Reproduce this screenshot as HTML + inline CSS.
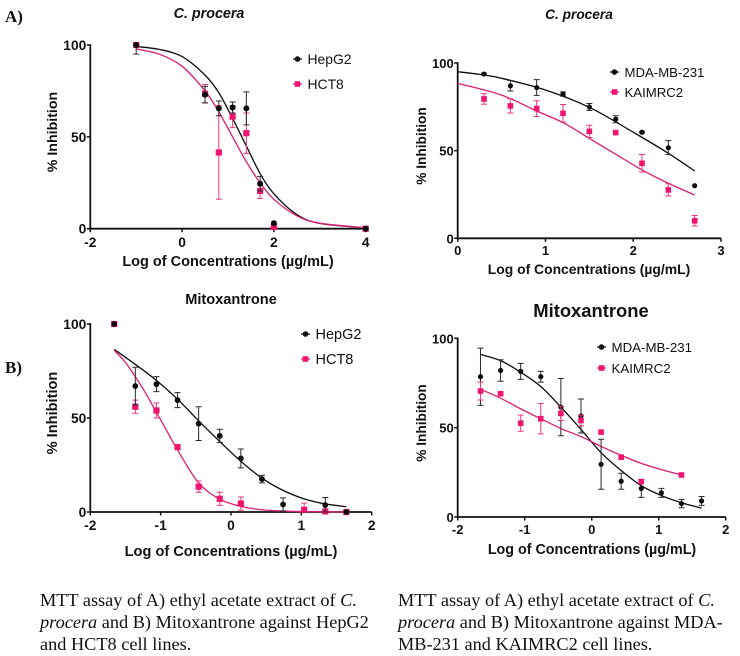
<!DOCTYPE html>
<html lang="en">
<head>
<meta charset="utf-8">
<title>MTT assay dose-response charts</title>
<style>
html,body{margin:0;padding:0;background:#fff;}
#page{position:relative;width:740px;height:656px;overflow:hidden;background:#fff;}
svg{position:absolute;left:0;top:0;filter:blur(0.3px);}
svg text{font-family:"Liberation Sans",sans-serif;fill:#111;}
.panel-label{font-family:"Liberation Serif",serif;font-weight:bold;font-size:17px;}
.title{font-weight:bold;font-size:14.3px;text-anchor:middle;}
.caption{position:absolute;font-family:"Liberation Serif",serif;font-size:18.3px;line-height:22px;color:#111;white-space:nowrap;}
</style>
</head>
<body>
<div id="page">
<svg id="fig" width="740" height="656" viewBox="0 0 740 656">
  <text class="panel-label" x="5" y="22">A)</text>
  <text class="panel-label" x="5" y="373">B)</text>
  <text class="title" x="209" y="18" font-style="italic">C. procera</text>
  <text class="title" x="579" y="19" font-style="italic" style="font-size:13.7px">C. procera</text>
  <text class="title" x="231" y="304" style="font-size:14.6px">Mitoxantrone</text>
  <text class="title" x="591" y="317" style="font-size:18.4px">Mitoxantrone</text>
</svg>
<div class="caption" style="left:40px;top:589px">MTT assay of A) ethyl acetate extract of <i>C.</i><br><i>procera</i> and B) Mitoxantrone against HepG2<br>and HCT8 cell lines.</div>
<div class="caption" style="left:398px;top:589px">MTT assay of A) ethyl acetate extract of <i>C.</i><br><i>procera</i> and B) Mitoxantrone against MDA-<br>MB-231 and KAIMRC2 cell lines.</div>
</div>
<script>
// ---- Chart A1 (C. procera, HepG2 / HCT8)
var a1XTicks = [-2, 0, 2, 4];
var a1YTicks = [0, 50, 100];
var a1BlackX = [-1, 0.5, 0.8, 1.1, 1.4, 1.7, 2, 4];
var a1BlackY = [100, 73, 65.5, 66, 65.5, 24.5, 3, 0];
var a1BlackErr = [5, 4.5, 4, 3, 9, 4, 0, 0];
var a1PinkX = [-1, 0.5, 0.8, 1.1, 1.4, 1.7, 2, 4];
var a1PinkY = [100, 73.5, 41.5, 61, 52, 20.5, 1, 0];
var a1PinkErr = [0, 5, 25.5, 6, 11, 4, 0, 0];
var a1BlackCurveX = [-1, -0.5, 0, 0.5, 0.8, 1.1, 1.4, 1.7, 2, 2.5, 3, 4];
var a1BlackCurveY = [99.2, 97.6, 93.7, 83.6, 74, 60, 45, 30, 19, 7.7, 2.9, 0.4];
var a1PinkCurveX = [-1, -0.5, 0, 0.5, 0.8, 1.1, 1.4, 1.7, 2, 2.5, 3, 4];
var a1PinkCurveY = [97.9, 95, 88.4, 75, 63.6, 50, 36.4, 25, 16, 7, 3, 0.5];

// ---- Chart A2 (C. procera, MDA-MB-231 / KAIMRC2)
var a2XTicks = [0, 1, 2, 3];
var a2YTicks = [0, 50, 100];
var a2BlackX = [0.3, 0.6, 0.9, 1.2, 1.5, 1.8, 2.1, 2.4, 2.7];
var a2BlackY = [93.7, 87, 86, 82.3, 74.9, 67.9, 60.5, 51.7, 30];
var a2BlackErr = [0.5, 3, 4.5, 1.2, 2, 2, 0.5, 4, 0];
var a2PinkX = [0.3, 0.6, 0.9, 1.2, 1.5, 1.8, 2.1, 2.4, 2.7];
var a2PinkY = [79.5, 75.5, 74, 71.3, 61, 60.3, 42.8, 27.6, 10];
var a2PinkErr = [3, 4, 4.5, 5, 3.5, 0, 5, 3.5, 3];
var a2BlackCurveX = [0, 0.25, 0.5, 1, 1.5, 2, 2.4, 2.7];
var a2BlackCurveY = [95, 93.5, 91.3, 84.6, 74.7, 60.5, 48.5, 38.4];
var a2PinkCurveX = [0, 0.5, 0.9, 1.2, 1.5, 1.8, 2.1, 2.4, 2.7];
var a2PinkCurveY = [88.4, 81.7, 72.6, 66, 57, 48, 39, 31.4, 24.7];

// ---- Chart B1 (Mitoxantrone, HepG2 / HCT8)
var b1XTicks = [-2, -1, 0, 1, 2];
var b1YTicks = [0, 50, 100];
var b1BlackX = [-1.66, -1.36, -1.06, -0.76, -0.46, -0.16, 0.14, 0.44, 0.74, 1.34, 1.64];
var b1BlackY = [100, 67, 68, 59.5, 47, 40.5, 28.5, 17.5, 4, 3.7, 0];
var b1BlackErr = [0, 10, 4, 4, 9, 3.5, 5, 2, 3.5, 4, 0];
var b1PinkX = [-1.66, -1.36, -1.06, -0.76, -0.46, -0.16, 0.14, 1.04, 1.34, 1.64];
var b1PinkY = [100, 56, 54, 34.5, 13.5, 7, 4.5, 1.2, 0.3, 0];
var b1PinkErr = [0, 3.5, 4, 0, 3, 3.5, 3.5, 3.5, 1, 0];
var b1BlackCurveX = [-1.66, -1.36, -1.06, -0.76, -0.46, -0.16, 0.14, 0.44, 0.74, 1.04, 1.34, 1.64];
var b1BlackCurveY = [86.5, 78.5, 70, 60, 48.5, 37.5, 27, 18, 11.5, 7, 4.3, 2.8];
var b1PinkCurveX = [-1.66, -1.51, -1.36, -1.21, -1.06, -0.91, -0.76, -0.46, -0.16, 0.14, 0.44, 0.74, 1.04, 1.64];
var b1PinkCurveY = [86, 80, 72, 63, 53, 43, 33, 15.5, 6.8, 3, 1.2, 0.5, 0.2, 0];

// ---- Chart B2 (Mitoxantrone, MDA-MB-231 / KAIMRC2)
var b2XTicks = [-2, -1, 0, 1, 2];
var b2YTicks = [0, 50, 100];
var b2BlackX = [-1.66, -1.36, -1.06, -0.76, -0.46, -0.16, 0.14, 0.44, 0.74, 1.04, 1.34, 1.64];
var b2BlackY = [78.5, 82, 81.5, 78.5, 61.5, 56.5, 29.5, 20, 16, 13.5, 7.5, 9];
var b2BlackErr = [16, 6, 4.5, 3, 16, 9.5, 14, 4.5, 5, 2.5, 2.3, 2.5];
var b2PinkX = [-1.66, -1.36, -1.06, -0.76, -0.46, -0.16, 0.14, 0.44, 0.74, 1.34];
var b2PinkY = [70.5, 69, 52.5, 55, 58, 54, 47.5, 33.5, 19.8, 23.5];
var b2PinkErr = [5, 0.5, 4.5, 8.5, 4, 3, 0, 0, 0, 0];
var b2BlackCurveX = [-1.66, -1.36, -1.06, -0.76, -0.46, -0.16, 0.14, 0.44, 0.74, 1.04, 1.34, 1.64];
var b2BlackCurveY = [91, 87.5, 81, 73, 61.5, 49, 36, 26, 17.5, 12, 8, 5];
var b2PinkCurveX = [-1.66, -1.36, -1.06, -0.76, -0.46, -0.16, 0.14, 0.44, 0.74, 1.04, 1.34];
var b2PinkCurveY = [71.5, 66.5, 60.5, 55, 49.5, 45, 39.5, 34.5, 30, 26.5, 23.5];

var BLACK = '#0d0d0d';
var PINK = '#ee1470';
var PINK_LINE = '#dc1c74';
var SVGNS = 'http://www.w3.org/2000/svg';
var root = document.getElementById('fig');

function make(tag, parent, attrs) {
  var el = document.createElementNS(SVGNS, tag);
  for (var k in attrs) { el.setAttribute(k, attrs[k]); }
  parent.appendChild(el);
  return el;
}

function smoothPath(xs, ys, sx, sy) {
  var p = [];
  for (var i = 0; i < xs.length; i++) { p.push([sx(xs[i]), sy(ys[i])]); }
  var d = 'M' + p[0][0].toFixed(2) + ' ' + p[0][1].toFixed(2);
  for (var j = 0; j < p.length - 1; j++) {
    var a = p[Math.max(j - 1, 0)], b = p[j], c = p[j + 1], e = p[Math.min(j + 2, p.length - 1)];
    var c1x = b[0] + (c[0] - a[0]) / 6, c1y = b[1] + (c[1] - a[1]) / 6;
    var c2x = c[0] - (e[0] - b[0]) / 6, c2y = c[1] - (e[1] - b[1]) / 6;
    d += ' C' + c1x.toFixed(2) + ' ' + c1y.toFixed(2) + ' ' + c2x.toFixed(2) + ' ' + c2y.toFixed(2) + ' ' + c[0].toFixed(2) + ' ' + c[1].toFixed(2);
  }
  return d;
}

function drawMarker(g, px, py, isPink, r) {
  var m;
  if (isPink) {
    m = make('rect', g, {x: px - r, y: py - r, width: 2 * r, height: 2 * r, fill: PINK});
  } else {
    m = make('circle', g, {cx: px, cy: py, r: r, fill: BLACK});
  }
  return m;
}

function drawSeries(g, key, isPink, xs, ys, errs, sx, sy, r) {
  var color = isPink ? '#e8397f' : '#2a2a2a';
  for (var i = 0; i < xs.length; i++) {
    var px = sx(xs[i]);
    if (errs[i] > 0) {
      var top = sy(Math.min(100, ys[i] + errs[i]));
      var bot = sy(Math.max(0, ys[i] - errs[i]));
      var eb = make('path', g, {d: 'M' + (px - 3) + ' ' + top + 'H' + (px + 3) + 'M' + px + ' ' + top + 'V' + bot + 'M' + (px - 3) + ' ' + bot + 'H' + (px + 3), fill: 'none', stroke: color, 'stroke-width': 1});
      
      
    }
  }
  for (var j = 0; j < xs.length; j++) {
    var mk = drawMarker(g, sx(xs[j]), sy(ys[j]), isPink, r);
    
    
  }
}

function drawChart(c) {
  var g = make('g', root, {});
  
  
  function sx(v) { return c.left + (v - c.xMin) / (c.xMax - c.xMin) * (c.right - c.left); }
  function sy(v) { return c.bottom - v / 100 * (c.bottom - c.top); }

  var axis = make('path', g, {d: 'M' + c.left + ' ' + (c.top - 0.8) + 'V' + c.bottom + 'H' + c.right, fill: 'none', stroke: '#111', 'stroke-width': 1.8});
  
  

  c.yTicks.forEach(function (t) {
    var tick = make('line', g, {x1: c.left - 3.5, x2: c.left, y1: sy(t), y2: sy(t), stroke: '#111', 'stroke-width': 1.5});
    
    
    var lab = make('text', g, {x: c.left - 4, y: sy(t) + 5, 'text-anchor': 'end', 'font-weight': 'bold', 'font-size': c.tickSize});
    lab.textContent = String(t);
    
    
  });
  c.xTicks.forEach(function (t) {
    var tick = make('line', g, {x1: sx(t), x2: sx(t), y1: c.bottom, y2: c.bottom + 3.5, stroke: '#111', 'stroke-width': 1.5});
    
    
    var lab = make('text', g, {x: sx(t), y: c.tickBase, 'text-anchor': 'middle', 'font-weight': 'bold', 'font-size': c.tickSize});
    lab.textContent = String(t);
    
    
  });

  var xt = make('text', g, {x: c.xTitleX, y: c.xTitleY, 'text-anchor': 'middle', 'font-weight': 'bold', 'font-size': c.xTitleSize});
  xt.textContent = 'Log of Concentrations (\u00b5g/mL)';
  
  
  var yt = make('text', g, {x: 0, y: 0, 'text-anchor': 'middle', 'font-weight': 'bold', 'font-size': c.yTitleSize, transform: 'translate(' + c.yTitleX + ' ' + c.yTitleY + ') rotate(-90)'});
  yt.textContent = '% Inhibition';
  
  

  var bc = make('path', g, {d: smoothPath(c.blackCurveX, c.blackCurveY, sx, sy), fill: 'none', stroke: BLACK, 'stroke-width': 1.3});
  
  
  var pc = make('path', g, {d: smoothPath(c.pinkCurveX, c.pinkCurveY, sx, sy), fill: 'none', stroke: PINK_LINE, 'stroke-width': 1.3});
  
  

  if (c.pinkOnTop) {
    drawSeries(g, c.id + '-' + c.blackName, false, c.blackX, c.blackY, c.blackErr, sx, sy, c.dotR);
    drawSeries(g, c.id + '-' + c.pinkName, true, c.pinkX, c.pinkY, c.pinkErr, sx, sy, c.squareR);
  } else {
    drawSeries(g, c.id + '-' + c.pinkName, true, c.pinkX, c.pinkY, c.pinkErr, sx, sy, c.squareR);
    drawSeries(g, c.id + '-' + c.blackName, false, c.blackX, c.blackY, c.blackErr, sx, sy, c.dotR);
  }

  // legend
  var entries = [[c.legendNames[0], false, c.legendY1], [c.legendNames[1], true, c.legendY2]];
  entries.forEach(function (en) {
    var lg = make('g', g, {});
    
    
    make('line', lg, {x1: c.legendX, x2: c.legendX + 9, y1: en[2], y2: en[2], stroke: en[1] ? PINK_LINE : BLACK, 'stroke-width': 1.2});
    drawMarker(lg, c.legendX + 4.5, en[2], en[1], 2.8);
    var tx = make('text', lg, {x: c.legendX + 14.5, y: en[2] + 5, 'font-size': c.legendSize});
    tx.textContent = en[0];
    
    
  });
}

drawChart({id: 'a1', left: 90.3, right: 365.7, top: 45, bottom: 228.7, xMin: -2, xMax: 4,
  xTicks: a1XTicks, yTicks: a1YTicks, tickBase: 247, xTitleX: 228, xTitleY: 266, yTitleX: 57, yTitleY: 132,
  tickSize: 13.8, xTitleSize: 14.5, yTitleSize: 14.2, legendSize: 13.9, dotR: 3, squareR: 3.1,
  blackX: a1BlackX, blackY: a1BlackY, blackErr: a1BlackErr, pinkX: a1PinkX, pinkY: a1PinkY, pinkErr: a1PinkErr,
  blackCurveX: a1BlackCurveX, blackCurveY: a1BlackCurveY, pinkCurveX: a1PinkCurveX, pinkCurveY: a1PinkCurveY,
  blackName: 'hepg2', pinkName: 'hct8', pinkOnTop: false,
  legendNames: ['HepG2', 'HCT8'], legendX: 293, legendY1: 59, legendY2: 84});

drawChart({id: 'a2', left: 457.7, right: 721, top: 63, bottom: 238.3, xMin: 0, xMax: 3,
  xTicks: a2XTicks, yTicks: a2YTicks, tickBase: 255, xTitleX: 589, xTitleY: 274, yTitleX: 426, yTitleY: 146,
  tickSize: 13, xTitleSize: 13.9, yTitleSize: 13.7, legendSize: 13.2, dotR: 2.6, squareR: 2.8,
  blackX: a2BlackX, blackY: a2BlackY, blackErr: a2BlackErr, pinkX: a2PinkX, pinkY: a2PinkY, pinkErr: a2PinkErr,
  blackCurveX: a2BlackCurveX, blackCurveY: a2BlackCurveY, pinkCurveX: a2PinkCurveX, pinkCurveY: a2PinkCurveY,
  blackName: 'mda-mb-231', pinkName: 'kaimrc2', pinkOnTop: true,
  legendNames: ['MDA-MB-231', 'KAIMRC2'], legendX: 610, legendY1: 72, legendY2: 92});

drawChart({id: 'b1', left: 90.3, right: 371.7, top: 324, bottom: 512, xMin: -2, xMax: 2,
  xTicks: b1XTicks, yTicks: b1YTicks, tickBase: 530, xTitleX: 231, xTitleY: 556, yTitleX: 57, yTitleY: 413,
  tickSize: 13.8, xTitleSize: 14.6, yTitleSize: 14.6, legendSize: 14.5, dotR: 2.9, squareR: 3.1,
  blackX: b1BlackX, blackY: b1BlackY, blackErr: b1BlackErr, pinkX: b1PinkX, pinkY: b1PinkY, pinkErr: b1PinkErr,
  blackCurveX: b1BlackCurveX, blackCurveY: b1BlackCurveY, pinkCurveX: b1PinkCurveX, pinkCurveY: b1PinkCurveY,
  blackName: 'hepg2', pinkName: 'hct8', pinkOnTop: false,
  legendNames: ['HepG2', 'HCT8'], legendX: 301, legendY1: 334, legendY2: 359});

drawChart({id: 'b2', left: 457.7, right: 725.7, top: 338.3, bottom: 517, xMin: -2, xMax: 2,
  xTicks: b2XTicks, yTicks: b2YTicks, tickBase: 534, xTitleX: 592, xTitleY: 554, yTitleX: 426, yTitleY: 423,
  tickSize: 13, xTitleSize: 14.3, yTitleSize: 13.7, legendSize: 13.3, dotR: 2.6, squareR: 2.8,
  blackX: b2BlackX, blackY: b2BlackY, blackErr: b2BlackErr, pinkX: b2PinkX, pinkY: b2PinkY, pinkErr: b2PinkErr,
  blackCurveX: b2BlackCurveX, blackCurveY: b2BlackCurveY, pinkCurveX: b2PinkCurveX, pinkCurveY: b2PinkCurveY,
  blackName: 'mda-mb-231', pinkName: 'kaimrc2', pinkOnTop: true,
  legendNames: ['MDA-MB-231', 'KAIMRC2'], legendX: 597, legendY1: 347, legendY2: 368});
</script>
</body>
</html>
